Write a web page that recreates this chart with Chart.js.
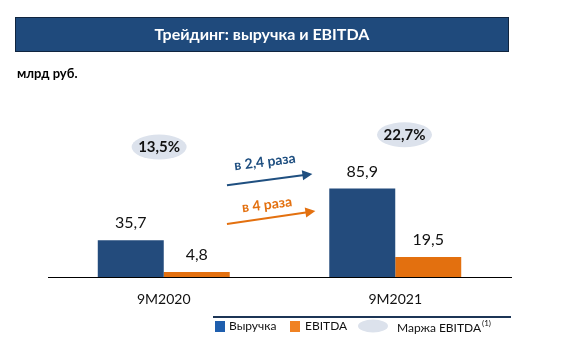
<!DOCTYPE html>
<html>
<head>
<meta charset="utf-8">
<script src="https://cdn.jsdelivr.net/npm/chart.js@4"></script>
<style>
  html, body { margin: 0; padding: 0; background: #fff; }
  #wrap { position: relative; width: 577px; height: 343px; }
</style>
</head>
<body>
<div id="wrap"><canvas id="tradingChart" width="577" height="343"></canvas></div>
<script>
// chart data
const periods = ['9M2020', '9M2021'];
const revenue = [35.7, 85.9];
const ebitda = [4.8, 19.5];
const margins = ['13,5%', '22,7%'];
const growthRevenue = 'в 2,4 раза';
const growthEbitda = 'в 4 раза';
const seriesNames = ['Выручка', 'EBITDA', 'Маржа EBITDA'];

const FONT = 'Lato, "Open Sans", sans-serif';
const BLUE = '#234b7c';
const ORANGE = '#e3700f';
const ELLIPSE = '#dce2ec';

const fmt = v => v.toFixed(1).replace('.', ',');

function arrow(ctx, x1, y1, x2, y2, color) {
  const a = Math.atan2(y2 - y1, x2 - x1);
  ctx.save();
  ctx.strokeStyle = color;
  ctx.fillStyle = color;
  ctx.lineWidth = 2;
  ctx.beginPath();
  ctx.moveTo(x1, y1);
  ctx.lineTo(x2 - 8 * Math.cos(a), y2 - 8 * Math.sin(a));
  ctx.stroke();
  ctx.translate(x2, y2);
  ctx.rotate(a);
  ctx.beginPath();
  ctx.moveTo(0, 0);
  ctx.lineTo(-10, -5);
  ctx.lineTo(-10, 5);
  ctx.closePath();
  ctx.fill();
  ctx.restore();
}

const decorPlugin = {
  id: 'decor',
  beforeDraw(chart) {
    const ctx = chart.ctx;
    ctx.save();
    // header bar
    ctx.fillStyle = '#1f4a7c';
    ctx.fillRect(15, 17, 494, 35);
    ctx.strokeStyle = '#10253f';
    ctx.lineWidth = 1;
    ctx.strokeRect(15.5, 17.5, 493, 34);
    ctx.fillStyle = '#fff';
    ctx.font = 'bold 16px ' + FONT;
    ctx.textAlign = 'center';
    ctx.textBaseline = 'middle';
    ctx.fillText('Трейдинг: выручка и EBITDA', 262, 35);
    // units
    ctx.fillStyle = '#000';
    ctx.font = 'bold 13px ' + FONT;
    ctx.textAlign = 'left';
    ctx.fillText('млрд руб.', 17, 74);
    ctx.restore();
  },
  afterDraw(chart) {
    const ctx = chart.ctx;
    const xs = chart.scales.x, ys = chart.scales.y;
    const px = v => xs.getPixelForValue(v);
    const py = v => ys.getPixelForValue(v);
    ctx.save();
    ctx.textAlign = 'center';
    ctx.textBaseline = 'middle';

    // value labels above bars
    ctx.font = '16px ' + FONT;
    ctx.fillStyle = '#111';
    [revenue, ebitda].forEach((arr, di) => {
      chart.getDatasetMeta(di).data.forEach((bar, i) => {
        ctx.fillText(fmt(arr[i]), bar.x, bar.y - 17);
      });
    });

    // margin ellipses
    const ellipsePos = [[-0.02, 126], [1.04, 138]];
    margins.forEach((m, i) => {
      const cx = px(ellipsePos[i][0]), cy = py(ellipsePos[i][1]);
      ctx.fillStyle = ELLIPSE;
      ctx.beginPath();
      ctx.ellipse(cx, cy, 27.5, 12.5, 0, 0, Math.PI * 2);
      ctx.fill();
      ctx.fillStyle = '#111';
      ctx.font = 'bold 15px ' + FONT;
      ctx.fillText(m, cx, cy);
    });

    // growth arrows
    arrow(ctx, px(0.273), py(89), px(0.642), py(100), '#1f4f80');
    arrow(ctx, px(0.273), py(51.5), px(0.655), py(64), ORANGE);
    ctx.font = 'bold 14px ' + FONT;
    [[growthRevenue, 0.437, 111.5, '#1f4f80'], [growthEbitda, 0.446, 70, ORANGE]].forEach(([t, xv, yv, c]) => {
      ctx.save();
      ctx.translate(px(xv), py(yv));
      ctx.rotate(-7 * Math.PI / 180);
      ctx.fillStyle = c;
      ctx.fillText(t, 0, 0);
      ctx.restore();
    });

    // legend
    ctx.strokeStyle = '#1c3556';
    ctx.lineWidth = 2;
    ctx.beginPath();
    ctx.moveTo(213, 317);
    ctx.lineTo(511, 317);
    ctx.stroke();
    ctx.textAlign = 'left';
    ctx.font = '12px ' + FONT;
    ctx.fillStyle = '#1f5fae';
    ctx.fillRect(215, 321, 10, 11);
    ctx.fillStyle = '#f08223';
    ctx.fillRect(290, 321, 10, 11);
    ctx.fillStyle = ELLIPSE;
    ctx.beginPath();
    ctx.ellipse(373, 326, 15, 6.5, 0, 0, Math.PI * 2);
    ctx.fill();
    ctx.fillStyle = '#111';
    ctx.fillText(seriesNames[0], 229, 326);
    ctx.fillText(seriesNames[1], 305, 326);
    ctx.fillText(seriesNames[2], 397, 328);
    const w = ctx.measureText(seriesNames[2]).width;
    ctx.font = '8px ' + FONT;
    ctx.fillText('(1)', 397 + w + 1, 323);
    ctx.restore();
  }
};

new Chart(document.getElementById('tradingChart'), {
  type: 'bar',
  data: {
    labels: periods,
    datasets: [
      { label: seriesNames[0], data: revenue, backgroundColor: BLUE },
      { label: seriesNames[1], data: ebitda, backgroundColor: ORANGE }
    ]
  },
  options: {
    responsive: false,
    animation: false,
    events: [],
    layout: { padding: { left: 48, right: 66, top: 112, bottom: 0 } },
    datasets: { bar: { barPercentage: 1, categoryPercentage: 0.57 } },
    plugins: { legend: { display: false }, tooltip: { enabled: false } },
    scales: {
      x: {
        grid: { display: false },
        border: { display: true, color: '#000', width: 1 },
        ticks: { color: '#111', font: { family: FONT, size: 14 }, padding: 6 },
        afterFit: s => { s.height = 66; }
      },
      y: {
        display: false,
        min: 0,
        max: 160
      }
    }
  },
  plugins: [decorPlugin]
});
</script>
</body>
</html>
